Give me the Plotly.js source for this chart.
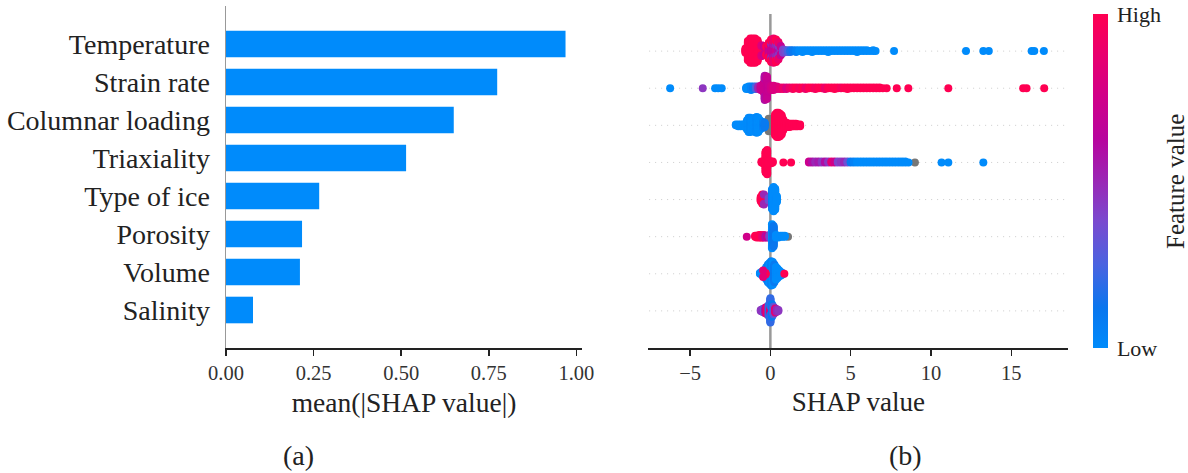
<!DOCTYPE html>
<html>
<head>
<meta charset="utf-8">
<script src="https://cdn.plot.ly/plotly-3.0.1.min.js"></script>
<style>html,body{margin:0;padding:0;background:#fff;}#chart{width:1188px;height:473px;}</style>
</head>
<body>
<div id="chart"></div>
<script>
// ---------- DATA ----------
// features, bottom to top
const features = ['Salinity','Volume','Porosity','Type of ice','Triaxiality','Columnar loading','Strain rate','Temperature'];
const meanAbsShap = [0.077, 0.211, 0.217, 0.266, 0.514, 0.650, 0.774, 0.969];
const barTicks = [0, 0.25, 0.5, 0.75, 1.0];
const shapTicks = [-5, 0, 5, 10, 15];
const colorbarTickText = ['Low', 'High'];

// Beeswarm groups: SHAP value, number of samples, feature value (0 low .. 1 high, null = missing)
const tempShap = [-1.55,-1.4,-1.25,-1.1,-0.95,-0.8,-0.55,-0.55,-0.4,-0.4,-0.25,-0.25,-0.1,-0.1,0.05,0.05,0.05,0.2,0.2,0.2,0.35,0.35,0.35,0.5,0.5,0.5,0.65,0.65,0.8,0.95,1.1,1.25,1.4,1.6,1.8,2.0,2.2,2.4,2.6,2.8,3.0,3.2,3.4,3.6,3.8,4.0,4.2,4.4,4.6,4.8,5.0,5.2,5.4,5.6,5.8,6.0,6.2,6.4,6.55,7.7,12.18,13.26,13.6,16.27,16.43,17.03];
const tempCount = [6,24,30,30,30,26,10,4,8,4,8,4,14,6,16,6,6,14,8,8,12,10,6,10,8,4,8,4,5,3,3,3,2,3,2,3,2,2,3,2,2,2,2,3,2,2,2,2,2,2,2,2,3,2,2,2,1,2,1,1,1,1,1,1,1,1];
const tempFeat = [1,1,1,1,1,1,1,0.8,0.9,0.7,0.75,1,0.72,1,0.7,0.5,1,0.7,0.55,0.9,0.75,0.5,1,0.6,0.45,0.9,0.45,0.7,0.4,0.35,0.25,0.15,0.1,0.05,0,0,0,0,0,0,0,0,0,0,0,0,0,0,0,0,0,0,0,0,0,0,0,0,0,0,0,0,0,0,0,0];

const strainShap = [-6.24,-4.21,-3.44,-3.25,-3.03,-1.5,-1.35,-1.2,-1.05,-0.9,-0.75,-0.6,-0.45,-0.35,-0.35,-0.22,-0.1,0.05,0.2,0.4,0.6,0.8,1.0,1.2,1.4,1.6,1.8,2.0,2.2,2.4,2.6,2.8,3.0,3.2,3.4,3.6,3.8,4.0,4.2,4.4,4.6,4.8,5.0,5.2,5.4,5.6,5.8,6.0,6.2,6.4,6.6,6.8,7.0,7.24,7.87,8.59,11.08,15.74,15.95,17.05];
const strainCount = [1,1,1,1,1,3,4,5,4,4,4,6,10,20,10,28,8,6,6,4,3,3,3,2,3,2,3,2,3,2,2,3,2,2,3,2,2,3,2,2,2,3,2,2,2,2,2,2,2,2,2,2,1,1,1,1,1,1,1,1];
const strainFeat = [0,0.45,0,0,0,0,0,0.05,0.1,0.25,0.5,0.7,0.72,0.72,0.6,0.7,0.7,0.75,0.8,0.8,0.85,0.9,0.8,0.9,0.95,1,0.95,1,0.9,1,1,0.95,1,1,0.9,1,1,1,1,0.95,1,1,1,1,1,1,1,1,1,1,1,1,1,1,1,1,1,1,1,1];

const colShap = [-2.15,-2.0,-1.85,-1.7,-1.55,-1.45,-1.35,-1.25,-1.15,-1.05,-0.95,-0.85,-0.75,-0.65,-0.55,-0.45,-0.35,-0.1,0.0,0.3,0.4,0.5,0.6,0.7,0.8,0.9,1.0,1.1,1.2,1.3,1.4,1.5,1.6,1.7,1.85];
const colCount = [2,3,3,3,5,12,18,18,14,16,18,20,18,12,8,8,6,16,14,26,30,30,28,24,14,8,6,5,5,4,4,4,4,3,3];
const colFeat = [0,0,0,0,0,0,0,0.02,0,0,0,0.02,0,0,0,0.05,0.1,null,null,1,1,1,1,1,1,1,1,1,1,1,1,1,1,1,1];

const triShap = [-0.55,-0.45,-0.3,-0.2,-0.1,0.05,0.15,0.81,1.29,2.4,2.6,2.8,3.0,3.2,3.4,3.6,3.8,4.0,4.2,4.4,4.6,4.8,5.0,5.2,5.4,5.6,5.8,6.0,6.2,6.4,6.6,6.8,7.0,7.2,7.4,7.6,7.8,8.0,8.2,8.4,8.6,9.0,10.66,11.08,13.26];
const triCount = [2,3,26,30,4,3,2,1,1,2,2,2,2,2,2,2,2,2,2,2,2,2,2,2,2,2,2,2,2,2,2,2,2,2,2,2,2,2,2,2,1,1,1,1,1];
const triFeat = [1,1,1,1,1,1,1,1,1,0.72,0.6,0.5,0.55,0.45,0.6,0.45,0.85,0.75,0.4,0.45,0.5,0.35,0.1,0.05,0,0,0,0,0,0,0,0,0,0,0,0,0,0,0,0,0,null,0,0,0];

const iceShap = [-0.6,-0.5,-0.4,-0.4,-0.1,0.1,0.2,0.3,0.4];
const iceCount = [6,12,10,3,4,24,30,26,8];
const iceFeat = [1,1,1,0.5,0.35,0.05,0,0,0];

const porShap = [-1.47,-0.95,-0.85,-0.7,-0.6,-0.5,-0.4,-0.3,-0.18,-0.05,0.1,0.2,0.35,0.5,0.65,0.77,0.9,1.1];
const porCount = [1,2,3,4,4,3,4,3,3,4,28,24,4,3,2,2,2,1];
const porFeat = [0.75,1,1,1,1,0.9,0.85,0.6,0.7,0.4,0,0.12,0,0,0,0,0,null];

const volShap = [-0.65,-0.55,-0.45,-0.35,-0.25,-0.15,-0.05,0.05,0.15,0.25,0.35,0.45,0.55,0.65,0.75,-0.3,-0.45,0.87];
const volCount = [2,4,7,10,16,22,26,30,28,22,16,12,8,5,3,3,2,1];
const volFeat = [0,0,0,0.05,0,0.1,0,0.05,0,0.1,0,0,0,0,0,1,0.85,1];

const salShap = [-0.6,-0.5,-0.4,-0.3,-0.2,-0.1,0.0,0.0,0.1,0.2,0.3,0.4,0.5];
const salCount = [2,4,6,8,10,14,10,20,16,10,6,4,2];
const salFeat = [0.45,0.45,0.3,0.7,0.9,0.2,0.85,0.2,0.1,0.3,0.85,0.5,0.45];

// ---------- LAYOUT HELPERS ----------
const swarmData = [
  [salShap, salCount, salFeat],
  [volShap, volCount, volFeat],
  [porShap, porCount, porFeat],
  [iceShap, iceCount, iceFeat],
  [triShap, triCount, triFeat],
  [colShap, colCount, colFeat],
  [strainShap, strainCount, strainFeat],
  [tempShap, tempCount, tempFeat]
];

// SHAP-style beeswarm stacking: points sharing a SHAP value are stacked alternately up / down
function swarm(xs, ns, cs, row) {
  const pts = [];
  xs.forEach((x, i) => { for (let k = 0; k < ns[i]; k++) pts.push({x: x, c: cs[i]}); });
  const layers = {};
  let maxOff = 0;
  pts.forEach(p => {
    const key = p.x.toFixed(3);
    const L = layers[key] || 0;
    p.off = Math.ceil(L / 2) * ((L % 2) * 2 - 1);
    layers[key] = L + 1;
    maxOff = Math.max(maxOff, p.off);
  });
  const s = 0.9 * 0.4 / (maxOff + 1);
  pts.forEach(p => { p.y = row + p.off * s; });
  return pts;
}

const cx = [], cy = [], cc = [], gx = [], gy = [];
swarmData.forEach((d, row) => {
  swarm(d[0], d[1], d[2], row).forEach(p => {
    if (p.c === null) { gx.push(p.x); gy.push(p.y); }
    else { cx.push(p.x); cy.push(p.y); cc.push(p.c); }
  });
});

const redBlue = [
  [0, '#008bfb'], [0.12, '#0a76ee'], [0.25, '#4a63e0'], [0.38, '#7a4acf'],
  [0.5, '#9a27b5'], [0.62, '#b6069f'], [0.75, '#d00089'], [0.88, '#e9006e'], [1, '#ff0052']
];

const FONT = 'Liberation Serif, Times New Roman, serif';
const W = 1188, H = 473;

const traces = [
  {
    type: 'bar', orientation: 'h', x: meanAbsShap, y: features, width: 0.7,
    marker: {color: '#008bfb', line: {width: 0}}, xaxis: 'x', yaxis: 'y', hoverinfo: 'skip'
  },
  {
    type: 'scatter', mode: 'markers', x: gx, y: gy, xaxis: 'x2', yaxis: 'y2',
    marker: {size: 8, color: '#777777', line: {width: 0}}, hoverinfo: 'skip'
  },
  {
    type: 'scatter', mode: 'markers', x: cx, y: cy, xaxis: 'x2', yaxis: 'y2', hoverinfo: 'skip',
    marker: {
      size: 8, color: cc, colorscale: redBlue, cmin: 0, cmax: 1, line: {width: 0},
      showscale: true,
      colorbar: {
        thickness: 15, len: 334, lenmode: 'pixels',
        x: 1092.7 / W, xanchor: 'left', y: 1 - 14 / H, yanchor: 'top',
        xpad: 0, ypad: 0, outlinewidth: 0, borderwidth: 0,
        tickvals: [0, 1], ticktext: colorbarTickText, ticks: 'outside', ticklen: 5, tickcolor: 'rgba(0,0,0,0)',
        tickfont: {family: FONT, size: 22, color: '#222'}
      }
    }
  }
];

const shapes = [];
for (let r = 0; r < features.length; r++) {
  shapes.push({type: 'line', xref: 'x2 domain', yref: 'y2', x0: 0.002, x1: 0.992, y0: r, y1: r,
    line: {color: '#cccccc', width: 1, dash: '1px,5px'}, layer: 'below'});
}
shapes.push({type: 'line', xref: 'x2', yref: 'y2 domain', x0: 0, x1: 0, y0: 0, y1: 1,
  line: {color: '#999999', width: 2.5}, layer: 'below'});

const axisCommon = {
  showline: true, linecolor: '#222', linewidth: 1.5, ticks: 'outside', ticklen: 6, tickwidth: 1.5,
  tickcolor: '#222', showgrid: false, zeroline: false, tickfont: {family: FONT, size: 20.5, color: '#333'},
  fixedrange: true
};

const layout = {
  width: W, height: H, margin: {l: 0, r: 0, t: 0, b: 0},
  paper_bgcolor: '#fff', plot_bgcolor: 'rgba(0,0,0,0)', showlegend: false,
  font: {family: FONT, color: '#222'},
  xaxis: Object.assign({}, axisCommon, {
    domain: [226 / W, 582 / W], range: [0, 1.016], anchor: 'y',
    tickvals: barTicks, tickformat: '.2f',
    title: {text: 'mean(|SHAP value|)', font: {family: FONT, size: 27.5, color: '#222'}, standoff: 9}
  }),
  yaxis: {
    domain: [1 - 348 / H, 1 - 6 / H], anchor: 'x', type: 'category',
    categoryorder: 'array', categoryarray: features, range: [-1, 8],
    showline: true, linecolor: '#999', linewidth: 1.5, ticks: '', showgrid: false, zeroline: false,
    tickfont: {family: FONT, size: 28, color: '#222'}, ticklabelstandoff: 9, fixedrange: true
  },
  xaxis2: Object.assign({}, axisCommon, {
    domain: [648.3 / W, 1068.3 / W], range: [-7.6, 18.55], anchor: 'y2',
    tickvals: shapTicks,
    title: {text: 'SHAP value', font: {family: FONT, size: 27, color: '#222'}, standoff: 9}
  }),
  yaxis2: {
    domain: [1 - 348 / H, 1 - 14 / H], anchor: 'x2', range: [-1, 8],
    visible: false, fixedrange: true
  },
  shapes: shapes,
  annotations: [
    {text: '(a)', x: 298 / W, y: 1 - 455 / H, xref: 'paper', yref: 'paper', showarrow: false,
      xanchor: 'center', yanchor: 'middle', font: {family: FONT, size: 28, color: '#222'}},
    {text: '(b)', x: 905 / W, y: 1 - 455 / H, xref: 'paper', yref: 'paper', showarrow: false,
      xanchor: 'center', yanchor: 'middle', font: {family: FONT, size: 28, color: '#222'}},
    {text: 'Feature value', x: 1175 / W, y: 1 - 182 / H, xref: 'paper', yref: 'paper', showarrow: false,
      textangle: -90, xanchor: 'center', yanchor: 'middle', font: {family: FONT, size: 25, color: '#222'}}
  ]
};

Plotly.newPlot('chart', traces, layout, {displayModeBar: false, staticPlot: true});
</script>
</body>
</html>
